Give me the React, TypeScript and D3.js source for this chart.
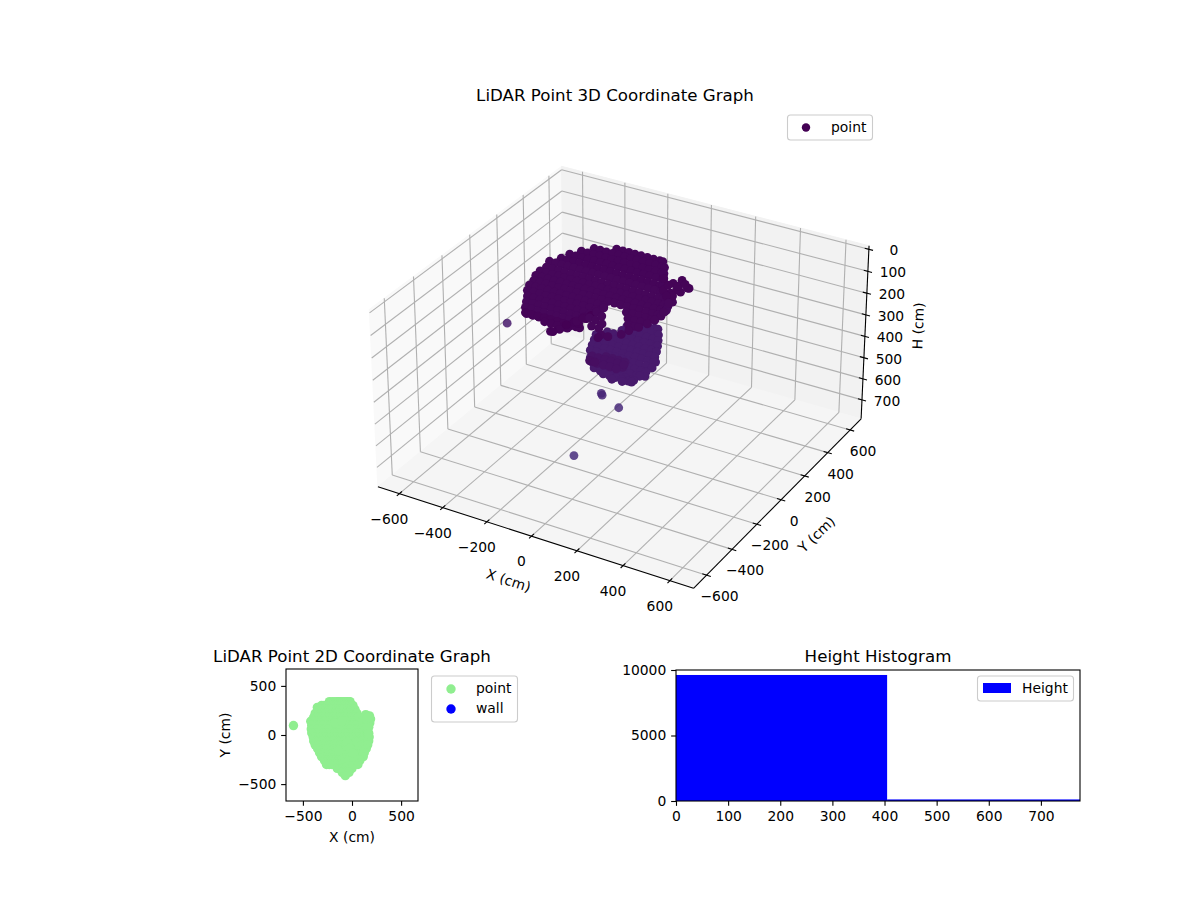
import React, { useRef, useEffect } from "react";
import * as d3 from "d3";

const FONT = "DejaVu Sans";

const domeRows: number[][] = [
  [340, 82, -230, -202, -174, -146, -118, -90, -62, -34, -20],
  [300, 82, -310, -282, -254, -226, -198, -170, -142, -114, -86, -58, -30, -2, 10],
  [281, 120, -353],
  [260, 85, -345, -317, -289, -261, -233, -205, -177, -149, -121, -93, -65, -37, -9, 19, 30],
  [220, 88, -375, -347, -319, -291, -263, -235, -207, -179, -151, -123, -95, -67, -39, -11, 17, 45, 50],
  [180, 92, -390, -362, -334, -306, -278, -250, -222, -194, -166, -138, -110, -82, -54, -26, 2, 30, 58, 70],
  [140, 95, -420, -392, -364, -336, -308, -280, -252, -224, -196, -168, -140, -112, -84, -56, -28, 0, 28, 56, 84, 100],
  [100, 100, -410, -382, -354, -326, -298, -270, -242, -214, -186, -158, -130, -102, -74, -46, -18, 10, 38, 66, 94, 115, 130],
  [60, 100, -415, -387, -359, -331, -303, -275, -247, -219, -191, -163, -135, -107, -79, -51, -23, 5, 33, 61, 89, 117, 140, 160],
  [20, 100, -410, -382, -354, -326, -298, -270, -242, -214, -186, -158, -130, -102, -74, -46, -18, 10, 38, 66, 94, 122, 150, 170],
  [-20, 100, -395, -367, -339, -311, -283, -255, -227, -199, -171, -143, -115, -87, -59, -31, -3, 25, 53, 81, 109, 137, 160, 175],
  [-60, 100, -390, -362, -334, -306, -278, -250, -222, -194, -166, -138, -110, -82, -55, 45, 73, 101, 129, 157, 170],
  [-100, 100, -375, -347, -319, -291, -263, -235, -207, -179, -151, -123, -95, -67, -50, 75, 103, 131, 160],
  [-140, 100, -350, -322, -294, -266, -238, -210, -182, -154, -126, -98, -70, 100, 128, 145],
  [-180, 100, -330, -302, -274, -246, -218, -190, -162, -134, -106, -78, -65, 125],
  [-220, 100, -310, -282, -254, -226, -198, -170, -142, -114, -86, 115],
  [-260, 100, -280, -252, -224, -196, -168, -140, -112, -85, 50, 80],
  [-300, 70, -260, -232, -204, -176, -148, -120, -92, -64, -36, -20],
  [-300, 90, 60],
  [-300, 20, 10],
  [-300, 0, 32],
  [-340, 60, -150, -122, -94, -66, -50],
  [-340, 25, -20, 0],
  [-380, 68, -100],
  [-380, 48, -60],
  [-380, 20, -30],
  [-414, 43, -68],
  [-220, 70, -47],
  [-260, 70, -57],
  [-260, 50, -29],
  // neck beside the opening
  [-170, 100, -54],
  [-115, 100, -54],
  [-74, 100, -47],
  [-172, 100, -26],
  [-133, 100, -21],
  [-220, 100, -15, 17],
  [-186, 100, 11],
  // right-hand lobe
  [207, 60, 140],
  [195, 80, 178],
  [162, 60, 189],
  [169, 60, 122],
  [121, 60, 181],
  [186, 60, 71],
  [94, 60, 151],
  [98, 100, 159],
  [78, 130, 144],
  [102, 60, 116],
  [127, 60, 160],
  [146, 60, 113],
  [78, 60, 170],
  [67, 60, 150],
  [84, 100, 149],
  [12, 100, 169],
  [158, 60, 150],
  [185, 60, 166],
];

const bowlRows: number[][] = [
  [340, 400, -140, -112, -84, -56, -40],
  [300, 400, -160, -132, -104, -76, -48, -20, -15],
  [260, 400, -160, -132, -104, -76, -48, -20, 6],
  [220, 400, -204, -176, -148, -120, -92, -64, -36, -8, 20, 26],
  [180, 400, -232, -204, -176, -148, -120, -92, -64, -36, -8, 20, 43],
  [178, 400, 44],
  [140, 400, -217, -189, -161, -133, -105, -77, -49, -21, 7, 35, 59],
  [107, 400, 81],
  [100, 400, -203, -175, -147, -119, -91, -63, -35, -7, 21, 49, 75],
  [60, 400, -188, -160, -132, -104, -76, -48, -20, 8, 36, 64, 92],
  [20, 400, -160, -132, -104, -76, -48, -20, 8, 36, 64, 87],
  [9, 400, -158],
  [-10, 400, 100],
  [-20, 400, -128, -100, -72, -44, -16, 12, 40, 68, 82],
  [-53, 400, -104],
  [-60, 400, -72, -44, -16, 12, 40, 68, 78],
  [-75, 400, -50, -22, 6, 34, 62, 77],
  [-89, 400, 43],
  [-94, 400, 0],
];

// points on the wall under the opening, seen through the bowl
const wallRows: number[][] = [
  [-100, 300, -22, 6, 34, 62],
  [-140, 300, -37, -9, 19, 47, 75],
  [-180, 260, -37, -9, 19, 47, 75, 103],
  [-220, 260, -19, 9, 37, 65, 93],
  [-260, 230, -1, 22],
];

// stray returns below the main cloud
const strayRows: number[][] = [
  [96, 410, -596],
  [124, 632, -176],
  [120, 637, -170],
  [138, 686, -104],
  [-155, 766, -138],
];

const tickValues3d = [-600, -400, -200, 0, 200, 400, 600];
const heightTicks3d = [0, 100, 200, 300, 400, 500, 600, 700];
const ticks2d = [-500, 0, 500];

const histEdges = [0, 405, 775];
const histCounts = [9620, 120];
const histXTicks = [0, 100, 200, 300, 400, 500, 600, 700];
const histYTicks = [0, 5000, 10000];

interface P3 {
  x: number;
  y: number;
  h: number;
}

const expandRows = (rows: number[][]): P3[] =>
  rows.flatMap(([y, h, ...xs]) => xs.map((x) => ({ x, y, h })));

// same camera maths as a default elev=30, azim=-60 3D axes
const XY_MAX = 700;
const H_TOP = -16;
const H_BOTTOM = 791;
const BOX_XY = 1.1905;
const BOX_Z = 0.67;
const DIST = 10;
const SCALE = 3020;
const CX = 624;
const CY = 366;
const elev = (30 * Math.PI) / 180;
const azim = (-60 * Math.PI) / 180;
const w = [Math.cos(elev) * Math.cos(azim), Math.cos(elev) * Math.sin(azim), Math.sin(elev)];
const u = [-Math.sin(azim), Math.cos(azim), 0];
const v = [w[1] * u[2] - w[2] * u[1], w[2] * u[0] - w[0] * u[2], w[0] * u[1] - w[1] * u[0]];

const worldX = d3.scaleLinear().domain([-XY_MAX, XY_MAX]).range([-BOX_XY / 2, BOX_XY / 2]);
const worldZ = d3.scaleLinear().domain([H_BOTTOM, H_TOP]).range([-BOX_Z / 2, BOX_Z / 2]);

const project = (x: number, y: number, h: number): [number, number] => {
  const d = [worldX(x), worldX(y), worldZ(h)];
  const dot = (a: number[]) => a[0] * d[0] + a[1] * d[1] + a[2] * d[2];
  const depth = DIST - dot(w);
  return [CX + (SCALE * dot(u)) / depth, CY - (SCALE * dot(v)) / depth];
};

const colorOf = (h: number) => d3.interpolateViridis(h / 6000);

export default function App() {
  const svgRef = useRef<SVGSVGElement>(null);

  useEffect(() => {
    if (!svgRef.current) return;
    const svg = d3.select(svgRef.current);
    svg.selectAll("*").remove();
    svg.attr("font-family", FONT).attr("font-size", 13.89).attr("fill", "#000");

    const text = (s: string, x: number, y: number, anchor = "middle", size = 13.89, rotate = 0) =>
      svg
        .append("text")
        .attr("x", x)
        .attr("y", y)
        .attr("text-anchor", anchor)
        .attr("font-size", size)
        .attr("transform", rotate ? `rotate(${rotate},${x},${y})` : null)
        .text(s);

    const legendBox = (x: number, y: number, width: number, height: number) =>
      svg
        .append("rect")
        .attr("x", x)
        .attr("y", y)
        .attr("width", width)
        .attr("height", height)
        .attr("rx", 3)
        .attr("fill", "#fff")
        .attr("fill-opacity", 0.8)
        .attr("stroke", "#ccc")
        .attr("stroke-width", 1.1);

    // ---- 3D panel
    const poly = d3.line();
    const pane = (corners: [number, number, number][], fill: string) =>
      svg
        .append("path")
        .attr("d", poly(corners.map((c) => project(c[0], c[1], c[2])))! + "Z")
        .attr("fill", fill)
        .attr("stroke", fill);

    const L = XY_MAX;
    pane([[-L, -L, H_BOTTOM], [-L, L, H_BOTTOM], [-L, L, H_TOP], [-L, -L, H_TOP]], "#f9f9f9");
    pane([[-L, L, H_BOTTOM], [L, L, H_BOTTOM], [L, L, H_TOP], [-L, L, H_TOP]], "#f2f2f2");
    pane([[-L, -L, H_BOTTOM], [L, -L, H_BOTTOM], [L, L, H_BOTTOM], [-L, L, H_BOTTOM]], "#f5f5f5");

    const seg = (a: [number, number, number], b: [number, number, number], color: string, width: number) => {
      const [x1, y1] = project(a[0], a[1], a[2]);
      const [x2, y2] = project(b[0], b[1], b[2]);
      svg
        .append("line")
        .attr("x1", x1)
        .attr("y1", y1)
        .attr("x2", x2)
        .attr("y2", y2)
        .attr("stroke", color)
        .attr("stroke-width", width);
    };

    const GRID = "#b0b0b0";
    tickValues3d.forEach((t) => {
      seg([t, -L, H_BOTTOM], [t, L, H_BOTTOM], GRID, 1.1);
      seg([t, L, H_BOTTOM], [t, L, H_TOP], GRID, 1.1);
      seg([-L, t, H_BOTTOM], [L, t, H_BOTTOM], GRID, 1.1);
      seg([-L, t, H_BOTTOM], [-L, t, H_TOP], GRID, 1.1);
    });
    heightTicks3d.forEach((t) => {
      seg([-L, -L, t], [-L, L, t], GRID, 1.1);
      seg([-L, L, t], [L, L, t], GRID, 1.1);
    });

    seg([-L, -L, H_BOTTOM], [L, -L, H_BOTTOM], "#000", 1.1);
    seg([L, -L, H_BOTTOM], [L, L, H_BOTTOM], "#000", 1.1);
    seg([L, L, H_BOTTOM], [L, L, H_TOP], "#000", 1.1);

    const TICK = 18;
    tickValues3d.forEach((t) => {
      seg([t, -L - TICK, H_BOTTOM], [t, -L + TICK, H_BOTTOM], "#000", 1.1);
      const [xa, ya] = project(t, -L, H_BOTTOM);
      text(String(t).replace("-", "\u2212"), xa - 10, ya + 30);
      seg([L - TICK, t, H_BOTTOM], [L + TICK, t, H_BOTTOM], "#000", 1.1);
      const [xb, yb] = project(L, t, H_BOTTOM);
      text(String(t).replace("-", "\u2212"), xb + 13, yb + 26);
    });
    heightTicks3d.forEach((t) => {
      seg([L - TICK, L, t], [L + TICK, L, t], "#000", 1.1);
      const [xc, yc] = project(L, L, t);
      text(String(t), xc + 25, yc + 6);
    });

    const cloud = [
      ...expandRows(bowlRows),
      ...expandRows(wallRows),
      ...expandRows(domeRows),
      ...expandRows(strayRows),
    ];
    svg
      .append("g")
      .selectAll("circle")
      .data(cloud)
      .join("circle")
      .attr("cx", (d) => project(d.x, d.y, d.h)[0])
      .attr("cy", (d) => project(d.x, d.y, d.h)[1])
      .attr("r", 4.4)
      .attr("fill", (d) => colorOf(d.h))
      .attr("fill-opacity", (d) => (d.h > 405 ? 0.85 : 1));

    text("LiDAR Point 3D Coordinate Graph", 615, 101, "middle", 16.67);
    text("X (cm)", 507, 585, "middle", 13.89, 18);
    text("Y (cm)", 820, 538, "middle", 13.89, -44);
    text("H (cm)", 923, 326, "middle", 13.89, -88);

    legendBox(787.5, 115, 85, 25);
    svg.append("circle").attr("cx", 806).attr("cy", 127.5).attr("r", 4.2).attr("fill", "#440154");
    text("point", 831, 132, "start");

    // ---- 2D panel
    const x2d = d3.scaleLinear().domain([-672, 672]).range([286, 418]);
    const y2d = d3.scaleLinear().domain([-672, 672]).range([801, 669]);
    const clipId = "clip2d";
    svg
      .append("clipPath")
      .attr("id", clipId)
      .append("rect")
      .attr("x", 286)
      .attr("y", 669)
      .attr("width", 132)
      .attr("height", 132);
    svg
      .append("g")
      .attr("clip-path", `url(#${clipId})`)
      .selectAll("circle")
      .data(cloud)
      .join("circle")
      .attr("cx", (d) => x2d(d.x))
      .attr("cy", (d) => y2d(d.y))
      .attr("r", 4.7)
      .attr("fill", "#90ee90");

    const styleAxis = (g: d3.Selection<SVGGElement, unknown, null, undefined>) => {
      g.attr("font-family", FONT).attr("font-size", 13.89);
      g.select(".domain").remove();
      g.selectAll("line").attr("stroke", "#000").attr("stroke-width", 1.1);
      g.selectAll("text").attr("fill", "#000");
    };

    svg
      .append("g")
      .attr("transform", "translate(0,801)")
      .call(d3.axisBottom(x2d).tickValues(ticks2d).tickSize(4.86).tickPadding(4.86).tickFormat(d3.format("d")) as any)
      .call(styleAxis as any);
    svg
      .append("g")
      .attr("transform", "translate(286,0)")
      .call(d3.axisLeft(y2d).tickValues(ticks2d).tickSize(4.86).tickPadding(4.86).tickFormat(d3.format("d")) as any)
      .call(styleAxis as any);
    svg
      .append("rect")
      .attr("x", 286)
      .attr("y", 669)
      .attr("width", 132)
      .attr("height", 132)
      .attr("fill", "none")
      .attr("stroke", "#000")
      .attr("stroke-width", 1.1);

    text("LiDAR Point 2D Coordinate Graph", 352, 662, "middle", 16.67);
    text("X (cm)", 352, 842);
    text("Y (cm)", 230, 735, "middle", 13.89, -90);

    legendBox(431.5, 676, 86, 46);
    svg.append("circle").attr("cx", 451).attr("cy", 689).attr("r", 4.7).attr("fill", "#90ee90");
    svg.append("circle").attr("cx", 451).attr("cy", 709).attr("r", 4.7).attr("fill", "#0000ff");
    text("point", 476, 693, "start");
    text("wall", 476, 713, "start");

    // ---- histogram
    const xHist = d3.scaleLinear().domain([histEdges[0], histEdges[2]]).range([676, 1080]);
    const yHist = d3.scaleLinear().domain([0, 10000]).range([801, 670]);
    svg
      .append("g")
      .selectAll("rect")
      .data(histCounts)
      .join("rect")
      .attr("x", (_, i) => xHist(histEdges[i]))
      .attr("y", (d) => yHist(d))
      .attr("width", (_, i) => xHist(histEdges[i + 1]) - xHist(histEdges[i]))
      .attr("height", (d) => yHist(0) - yHist(d))
      .attr("fill", "#0000ff");

    svg
      .append("g")
      .attr("transform", "translate(0,801)")
      .call(d3.axisBottom(xHist).tickValues(histXTicks).tickSize(4.86).tickPadding(4.86).tickFormat(d3.format("d")) as any)
      .call(styleAxis as any);
    svg
      .append("g")
      .attr("transform", "translate(676,0)")
      .call(d3.axisLeft(yHist).tickValues(histYTicks).tickSize(4.86).tickPadding(4.86).tickFormat(d3.format("d")) as any)
      .call(styleAxis as any);
    svg
      .append("rect")
      .attr("x", 676)
      .attr("y", 670)
      .attr("width", 404)
      .attr("height", 131)
      .attr("fill", "none")
      .attr("stroke", "#000")
      .attr("stroke-width", 1.1);

    text("Height Histogram", 878, 662, "middle", 16.67);
    legendBox(977.5, 676, 96, 25);
    svg.append("rect").attr("x", 983).attr("y", 683).attr("width", 28).attr("height", 10).attr("fill", "#0000ff");
    text("Height", 1022, 693, "start");

    return () => {
      svg.selectAll("*").remove();
    };
  }, []);

  return (
    <svg
      ref={svgRef}
      width={1200}
      height={900}
      style={{ position: "absolute", left: 0, top: 0, display: "block", background: "#fff" }}
    />
  );
}
